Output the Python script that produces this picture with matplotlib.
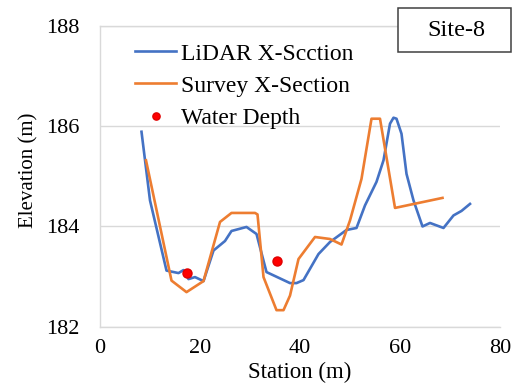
import matplotlib

matplotlib.use("Agg")
import matplotlib.pyplot as plt  # noqa: E402
from matplotlib.patches import Rectangle  # noqa: E402

plt.rcParams["font.family"] = ["Liberation Serif", "DejaVu Serif"]

BLUE = "#4472C4"
ORANGE = "#ED7D31"
RED = "#FF0000"
GRID = "#D9D9D9"

# LiDAR cross-section
lidar_x = [8.3, 10.0, 13.3, 15.7, 16.7, 17.7, 19.0, 20.7, 22.7, 25.0, 26.3, 29.3,
           31.3, 33.3, 38.0, 39.3, 40.7, 43.7, 46.0, 49.3, 51.3, 53.0, 55.3, 56.7,
           58.0, 58.7, 59.3, 60.3, 61.3, 62.7, 64.5, 66.0, 68.7, 70.7, 72.3, 74.0]
lidar_y = [185.89, 184.52, 183.12, 183.07, 183.13, 182.95, 182.99, 182.91, 183.52,
           183.71, 183.91, 183.99, 183.85, 183.09, 182.87, 182.87, 182.93, 183.45,
           183.69, 183.93, 183.97, 184.42, 184.89, 185.32, 186.05, 186.17, 186.15,
           185.85, 185.05, 184.52, 184.00, 184.07, 183.97, 184.22, 184.31, 184.45]

# Survey cross-section
survey_x = [9.2, 14.3, 17.3, 20.7, 24.0, 26.3, 31.0, 31.5, 32.7, 35.3, 36.7, 38.0,
            39.7, 43.0, 46.0, 48.3, 50.0, 52.3, 54.3, 56.0, 59.0, 68.5]
survey_y = [185.32, 182.92, 182.69, 182.91, 184.09, 184.27, 184.27, 184.24, 182.99,
            182.33, 182.33, 182.62, 183.35, 183.79, 183.75, 183.64, 184.12, 184.95,
            186.15, 186.15, 184.37, 184.57]

# Water depth points
water_x = [17.3, 35.3]
water_y = [183.07, 183.31]

x_ticks = [0, 20, 40, 60, 80]
y_ticks = [182, 184, 186, 188]

fig = plt.figure(figsize=(5.16, 3.83), dpi=100)
ax = fig.add_axes([100 / 516, 1 - 326.7 / 383, 400 / 516, 300.7 / 383])

ax.plot(lidar_x, lidar_y, color=BLUE, lw=1.9, label="LiDAR X-Scction", zorder=3)
ax.plot(survey_x, survey_y, color=ORANGE, lw=1.9, label="Survey X-Section", zorder=3)
ax.plot(water_x, water_y, ls="none", marker="o", ms=6.5, color=RED,
        mec="#E00000", label="Water Depth", zorder=4)

ax.set_xlim(0, 80)
ax.set_ylim(182, 188)
ax.set_xticks(x_ticks)
ax.set_yticks(y_ticks)
ax.tick_params(axis="both", length=0, labelsize=16)
ax.tick_params(axis="y", pad=15)
ax.tick_params(axis="x", pad=9)

ax.yaxis.grid(True, color=GRID, lw=1.0)
ax.set_axisbelow(True)
for side in ["left", "bottom", "top"]:
    ax.spines[side].set_color(GRID)
    ax.spines[side].set_linewidth(1.0)
ax.spines["right"].set_visible(False)

ax.set_xlabel("Station (m)", fontsize=16.5, va="center")
ax.xaxis.set_label_coords(0.5, -0.152)
ax.set_ylabel("Elevation (m)", fontsize=15, va="center")
ax.yaxis.set_label_coords(-0.178, 0.52)

fig.legend(loc="upper left", bbox_to_anchor=(135 / 516, 1 - 43 / 383),
           frameon=False, fontsize=17, borderpad=0, borderaxespad=0,
           handlelength=1.75, handletextpad=0.18, labelspacing=0.45,
           markerscale=0.8)

# Site label box
fig.patches.append(Rectangle((398 / 516, 1 - 51.7 / 383), 113.4 / 516, 43.4 / 383,
                             transform=fig.transFigure, facecolor="white",
                             edgecolor="#404040", lw=1.1, zorder=5))
fig.text(456 / 516, 1 - 30 / 383, "Site-8", ha="center", va="center",
         fontsize=17.5, zorder=6)

fig.savefig("out.png", dpi=100, facecolor="white")
